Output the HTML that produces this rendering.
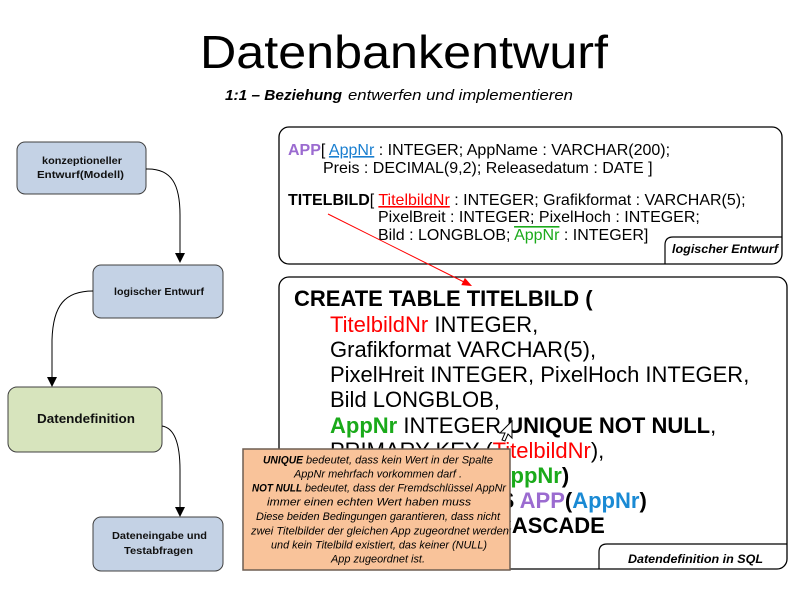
<!DOCTYPE html>
<html>
<head>
<meta charset="utf-8">
<style>
html,body{margin:0;padding:0;background:#fff;}
svg{display:block;}
text{font-family:"Liberation Sans",Arial,sans-serif;}
</style>
</head>
<body>
<svg width="800" height="600" viewBox="0 0 800 600" xmlns="http://www.w3.org/2000/svg">
<rect x="0" y="0" width="800" height="600" fill="#fff"/>

<!-- Title -->
<text x="200" y="68" font-size="46" textLength="408" lengthAdjust="spacingAndGlyphs" fill="#000">Datenbankentwurf</text>
<text x="225" y="100" font-size="15" font-weight="bold" font-style="italic" textLength="117" lengthAdjust="spacingAndGlyphs" fill="#000">1:1 – Beziehung</text>
<text x="348" y="100" font-size="15" font-style="italic" textLength="225" lengthAdjust="spacingAndGlyphs" fill="#000">entwerfen und implementieren</text>

<!-- Left nodes -->
<rect x="17" y="142" width="129" height="52" rx="8" fill="#C4D2E5" stroke="#404040" stroke-width="1"/>
<text x="42" y="164" font-size="10" font-weight="bold" textLength="80" lengthAdjust="spacingAndGlyphs" fill="#111">konzeptioneller</text>
<text x="37" y="178" font-size="10" font-weight="bold" textLength="87" lengthAdjust="spacingAndGlyphs" fill="#111">Entwurf(Modell)</text>

<rect x="93" y="265" width="130" height="53" rx="8" fill="#C4D2E5" stroke="#404040" stroke-width="1"/>
<text x="114" y="295" font-size="10" font-weight="bold" textLength="90" lengthAdjust="spacingAndGlyphs" fill="#111">logischer Entwurf</text>

<rect x="8" y="387" width="154" height="65" rx="9" fill="#D7E4BD" stroke="#404040" stroke-width="1"/>
<text x="37" y="423" font-size="13" font-weight="bold" textLength="98" lengthAdjust="spacingAndGlyphs" fill="#111">Datendefinition</text>

<rect x="93" y="517" width="130" height="54" rx="8" fill="#C4D2E5" stroke="#404040" stroke-width="1"/>
<text x="112" y="539" font-size="10" font-weight="bold" textLength="95" lengthAdjust="spacingAndGlyphs" fill="#111">Dateneingabe und</text>
<text x="124" y="554" font-size="10" font-weight="bold" textLength="69" lengthAdjust="spacingAndGlyphs" fill="#111">Testabfragen</text>

<!-- Connectors -->
<path d="M146,169 C172,168 180,185 180,215 L180,253" fill="none" stroke="#000" stroke-width="1"/>
<polygon points="175,253 185,253 180,263" fill="#000"/>
<path d="M93,291 C65,291 53,305 52,340 L52,377" fill="none" stroke="#000" stroke-width="1"/>
<polygon points="47,377 57,377 52,387" fill="#000"/>
<path d="M162,426 C175,428 180,445 180,470 L180,507" fill="none" stroke="#000" stroke-width="1"/>
<polygon points="175,507 185,507 180,517" fill="#000"/>

<!-- Logical design box -->
<rect x="279" y="127" width="503" height="137" rx="10" fill="#fff" stroke="#000" stroke-width="1.3"/>
<path d="M665,264 L665,245 Q665,237 673,237 L782,237" fill="none" stroke="#000" stroke-width="1.2"/>
<text x="672" y="253" font-size="12" font-weight="bold" font-style="italic" textLength="106" lengthAdjust="spacingAndGlyphs" fill="#000">logischer Entwurf</text>

<text x="288" y="155" font-size="16" fill="#000"><tspan font-weight="bold" fill="#9B6BD0">APP</tspan>[ <tspan fill="#1A7FD0" text-decoration="underline">AppNr</tspan> : INTEGER; AppName : VARCHAR(200);</text>
<text x="323" y="173" font-size="16" fill="#000">Preis : DECIMAL(9,2); Releasedatum : DATE ]</text>
<text x="288" y="205" font-size="16" fill="#000"><tspan font-weight="bold">TITELBILD</tspan>[ <tspan fill="#FF0000" text-decoration="underline">TitelbildNr</tspan> : INTEGER; Grafikformat : VARCHAR(5);</text>
<text x="378" y="222" font-size="16" fill="#000">PixelBreit : INTEGER; PixelHoch : INTEGER;</text>
<text x="378" y="240" font-size="16" fill="#000">Bild : LONGBLOB; <tspan fill="#1AAA1A" text-decoration="overline">AppNr</tspan> : INTEGER]</text>

<!-- SQL box -->
<rect x="279" y="277" width="508" height="292" rx="10" fill="#fff" stroke="#000" stroke-width="1.3"/>
<path d="M599,569 L599,552 Q599,544 607,544 L787,544" fill="none" stroke="#000" stroke-width="1.2"/>
<text x="628" y="563" font-size="12" font-weight="bold" font-style="italic" textLength="135" lengthAdjust="spacingAndGlyphs" fill="#000">Datendefinition in SQL</text>

<text x="294" y="306" font-size="22" font-weight="bold" fill="#000">CREATE TABLE TITELBILD (</text>
<text x="330" y="332" font-size="22" fill="#000"><tspan fill="#FF0000">TitelbildNr</tspan> INTEGER,</text>
<text x="330" y="357" font-size="22" fill="#000">Grafikformat VARCHAR(5),</text>
<text x="330" y="382" font-size="22" fill="#000">PixelHreit INTEGER, PixelHoch INTEGER,</text>
<text x="330" y="407" font-size="22" fill="#000">Bild LONGBLOB,</text>
<text x="330" y="433" font-size="22" fill="#000"><tspan font-weight="bold" fill="#1AAA1A">AppNr</tspan> INTEGER <tspan font-weight="bold">UNIQUE NOT NULL</tspan>,</text>
<text x="330" y="458" font-size="22" fill="#000">PRIMARY KEY (<tspan fill="#FF0000">TitelbildNr</tspan>),</text>
<text x="330" y="483" font-size="22" font-weight="bold" fill="#000">FOREIGN KEY (<tspan fill="#1AAA1A">AppNr</tspan>)</text>
<text x="364" y="508" font-size="22" font-weight="bold" fill="#000">REFERENCES <tspan fill="#9B6BD0">APP</tspan>(<tspan fill="#1A8AD4">AppNr</tspan>)</text>
<text x="364" y="533" font-size="22" font-weight="bold" fill="#000">ON DELETE CASCADE</text>

<!-- Red arrow -->
<line x1="328" y1="214" x2="464" y2="282" stroke="#FF0000" stroke-width="1"/>
<polygon points="472,286 461.3,285.1 464.9,277.9" fill="#FF0000"/>

<!-- Mouse cursor -->
<polygon points="512,421 512,438 508,434 505,441 502,440 505,433 500,433" fill="#fff" stroke="#000" stroke-width="1"/>

<!-- Orange note -->
<rect x="243" y="449" width="267" height="121" fill="#F9C39A" stroke="#6E5E52" stroke-width="1.5"/>
<text x="263" y="463.5" font-size="11" font-weight="bold" font-style="italic" textLength="40" lengthAdjust="spacingAndGlyphs" fill="#000">UNIQUE</text>
<text x="306" y="463.5" font-size="11" font-style="italic" textLength="187" lengthAdjust="spacingAndGlyphs" fill="#000">bedeutet, dass kein Wert in der Spalte</text>
<text x="294" y="477.5" font-size="11" font-style="italic" textLength="168" lengthAdjust="spacingAndGlyphs" fill="#000">AppNr mehrfach vorkommen darf .</text>
<text x="252" y="491.5" font-size="11" font-weight="bold" font-style="italic" textLength="50" lengthAdjust="spacingAndGlyphs" fill="#000">NOT NULL</text>
<text x="305" y="491.5" font-size="11" font-style="italic" textLength="201" lengthAdjust="spacingAndGlyphs" fill="#000">bedeutet, dass der Fremdschlüssel AppNr</text>
<text x="267" y="505.5" font-size="11" font-style="italic" textLength="204" lengthAdjust="spacingAndGlyphs" fill="#000">immer einen echten Wert haben muss</text>
<text x="256" y="520" font-size="11" font-style="italic" textLength="244" lengthAdjust="spacingAndGlyphs" fill="#000">Diese beiden Bedingungen garantieren, dass nicht</text>
<text x="251" y="534.5" font-size="11" font-style="italic" textLength="258" lengthAdjust="spacingAndGlyphs" fill="#000">zwei Titelbilder der gleichen App zugeordnet werden</text>
<text x="271" y="548.5" font-size="11" font-style="italic" textLength="216" lengthAdjust="spacingAndGlyphs" fill="#000">und kein Titelbild existiert, das keiner (NULL)</text>
<text x="331" y="562.5" font-size="11" font-style="italic" textLength="94" lengthAdjust="spacingAndGlyphs" fill="#000">App zugeordnet ist.</text>
</svg>
</body>
</html>
